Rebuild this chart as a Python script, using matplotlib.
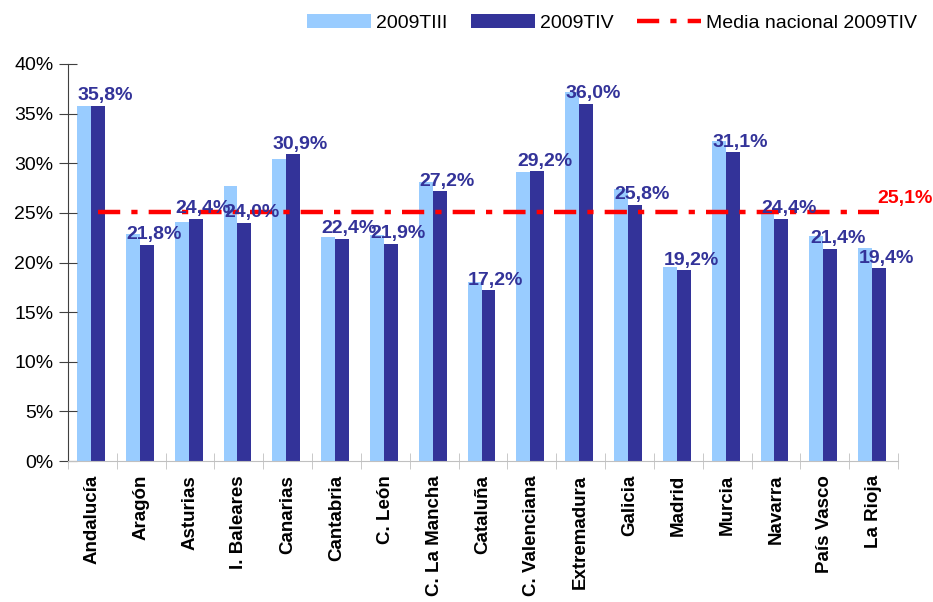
import matplotlib.pyplot as plt
import numpy as np

plt.rcParams['font.family'] = ['Liberation Sans', 'DejaVu Sans']

# data
regiones = ['Andalucía', 'Aragón', 'Asturias', 'I. Baleares', 'Canarias', 'Cantabria',
            'C. León', 'C. La Mancha', 'Cataluña', 'C. Valenciana', 'Extremadura',
            'Galicia', 'Madrid', 'Murcia', 'Navarra', 'País Vasco', 'La Rioja']
t3_2009 = [35.8, 22.9, 24.1, 27.7, 30.4, 22.6, 22.8, 28.1, 18.0, 29.1, 37.2,
           27.4, 19.5, 32.2, 24.9, 22.7, 21.5]
t4_2009 = [35.8, 21.8, 24.4, 24.0, 30.9, 22.4, 21.9, 27.2, 17.2, 29.2, 36.0,
           25.8, 19.2, 31.1, 24.4, 21.4, 19.4]
media_nacional = 25.1

light = '#99ccff'
dark = '#333399'
fs = 14

fig = plt.figure(figsize=(9.33, 6.02), dpi=100)
ax = fig.add_axes([0.0729, 0.2342, 0.8896, 0.6595])

x = np.arange(len(regiones))
w = 0.285
b1 = ax.bar(x - w / 2 - 0.03, t3_2009, w, color=light, label='2009TIII')
b2 = ax.bar(x + w / 2 - 0.03, t4_2009, w, color=dark, label='2009TIV')

# linea media nacional
ln, = ax.plot([x[0] + w / 2 - 0.03, x[-1] + w / 2 - 0.03], [media_nacional] * 2,
              color='red', lw=3.2, dashes=(5, 2.5, 1.4, 2.5), label='Media nacional 2009TIV')
ax.text(x[-1] + 0.08, media_nacional + 0.5, f'{media_nacional:.1f}%'.replace('.', ','),
        color='red', fontsize=fs, fontweight='bold', ha='left', va='bottom')

for xi, v in zip(x, t4_2009):
    ax.text(xi + w / 2 + 0.12, v + 0.15, f'{v:.1f}%'.replace('.', ','), color=dark,
            fontsize=fs, fontweight='bold', ha='center', va='bottom')

ax.set_xlim(-0.5, len(regiones) - 0.5)
ax.set_ylim(0, 40)
ax.set_yticks(range(0, 41, 5))
ax.set_yticklabels([f'{t}%' for t in range(0, 41, 5)], fontsize=14)
ax.set_xticks(x)
ax.set_xticklabels(regiones, rotation=90, fontsize=13.5, fontweight='bold')
ax.set_xticks(np.arange(-0.5, len(regiones), 1), minor=True)
ax.tick_params(axis='x', which='major', length=0, pad=10)
ax.tick_params(axis='x', which='minor', direction='inout', length=12, color='#c0c0c0')
ax.tick_params(axis='y', direction='inout', length=13, color='#404040', pad=4)

for s in ['top', 'right']:
    ax.spines[s].set_visible(False)
ax.spines['left'].set_color('#404040')
ax.spines['bottom'].set_color('#c0c0c0')

fig.legend(handles=[b1, b2, ln], loc='upper right', bbox_to_anchor=(0.997, 1.0), ncol=3,
           frameon=False, fontsize=14, handlelength=3.3, handleheight=0.8,
           handletextpad=0.25, columnspacing=1.2, borderaxespad=0.3)

fig.savefig('out.png', dpi=100)
